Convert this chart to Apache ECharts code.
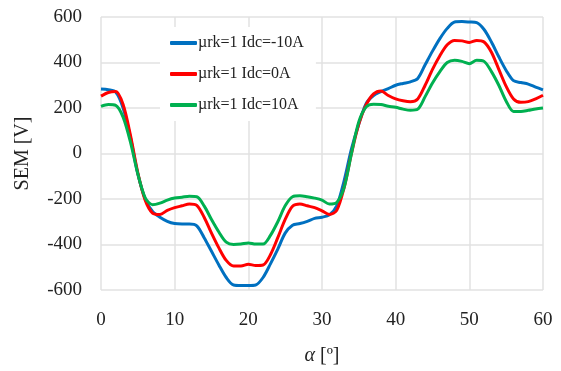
<!DOCTYPE html>
<html>
<head>
<meta charset="utf-8">
<script src="https://cdn.jsdelivr.net/npm/echarts@6/dist/echarts.min.js"></script>
<style>html,body{margin:0;padding:0;background:#fff}#c{width:561px;height:371px}</style>
</head>
<body>
<div id="c"></div>
<script>
const alpha = [];
for (let a = 0; a <= 60; a++) alpha.push(a);
const seriesNames = ['µrk=1 Idc=-10A', 'µrk=1 Idc=0A', 'µrk=1 Idc=10A'];
const semMinus10 = [283,280,270,200,70,-90,-200,-255,-280,-298,-308,-310,-310,-318,-370,-430,-490,-545,-578,-580,-580,-578,-545,-485,-420,-350,-315,-308,-298,-285,-280,-270,-230,-120,20,130,220,255,272,285,300,308,315,330,390,450,505,550,578,580,578,575,545,490,425,365,320,312,305,292,280];
const sem0 = [252,268,272,215,80,-85,-205,-262,-268,-250,-238,-230,-222,-228,-280,-350,-415,-470,-495,-495,-487,-492,-490,-445,-370,-290,-232,-222,-230,-238,-252,-268,-250,-150,0,130,215,262,275,255,240,232,228,240,300,370,430,478,497,495,488,497,490,445,370,295,240,225,228,240,256];
const semPlus10 = [207,215,212,160,50,-90,-195,-225,-218,-205,-196,-192,-188,-190,-230,-290,-345,-390,-400,-398,-393,-398,-398,-360,-300,-230,-190,-186,-190,-196,-205,-222,-215,-150,0,140,205,217,215,208,203,195,190,195,250,310,360,400,410,405,395,410,405,360,300,230,185,185,190,196,200];
const xTicks = [0,10,20,30,40,50,60];
const yTicks = [-600,-400,-200,0,200,400,600];

const colors = ['#0070C0', '#FF0000', '#00B050'];
const font = 'Liberation Serif';
const pairs = arr => alpha.map((a, i) => [a, arr[i]]);
const chart = echarts.init(document.getElementById('c'));
chart.setOption({
  animation: false,
  grid: { left: 101, right: 18, top: 17, bottom: 78, containLabel: false },
  legend: {
    orient: 'vertical', left: 160, top: 27,
    padding: [8, 12, 8, 10],
    backgroundColor: '#ffffff',
    itemWidth: 27, itemHeight: 4, itemGap: 15,
    icon: 'roundRect',
    textStyle: { fontFamily: font, fontSize: 16, color: '#222', padding: [0, 0, 0, -4] },
    data: seriesNames
  },
  xAxis: {
    type: 'value', min: xTicks[0], max: xTicks[xTicks.length - 1], interval: 10,
    name: '{i|α} [º]', nameLocation: 'middle', nameGap: 56,
    nameTextStyle: { fontFamily: font, fontSize: 20, color: '#222', rich: { i: { fontFamily: font, fontStyle: 'italic', fontSize: 20, color: '#222' } } },
    axisLine: { show: false }, axisTick: { show: false },
    axisLabel: { fontFamily: font, fontSize: 19, color: '#222', margin: 21 },
    splitLine: { show: true, lineStyle: { color: '#e2e2e2', width: 1.5 } }
  },
  yAxis: {
    type: 'value', min: yTicks[0], max: yTicks[yTicks.length - 1], interval: 200,
    name: 'SEM [V]', nameLocation: 'middle', nameGap: 68,
    nameTextStyle: { fontFamily: font, fontSize: 20, color: '#222' },
    axisLine: { show: false }, axisTick: { show: false },
    axisLabel: { fontFamily: font, fontSize: 19, color: '#222', margin: 19 },
    splitLine: { show: true, lineStyle: { color: '#e2e2e2', width: 1.5 } }
  },
  series: [semMinus10, sem0, semPlus10].map((d, i) => ({
    name: seriesNames[i], type: 'line', data: pairs(d), smooth: 0.3,
    showSymbol: false, symbol: 'none',
    lineStyle: { color: colors[i], width: 3 }, itemStyle: { color: colors[i] }
  }))
});
</script>
</body>
</html>
